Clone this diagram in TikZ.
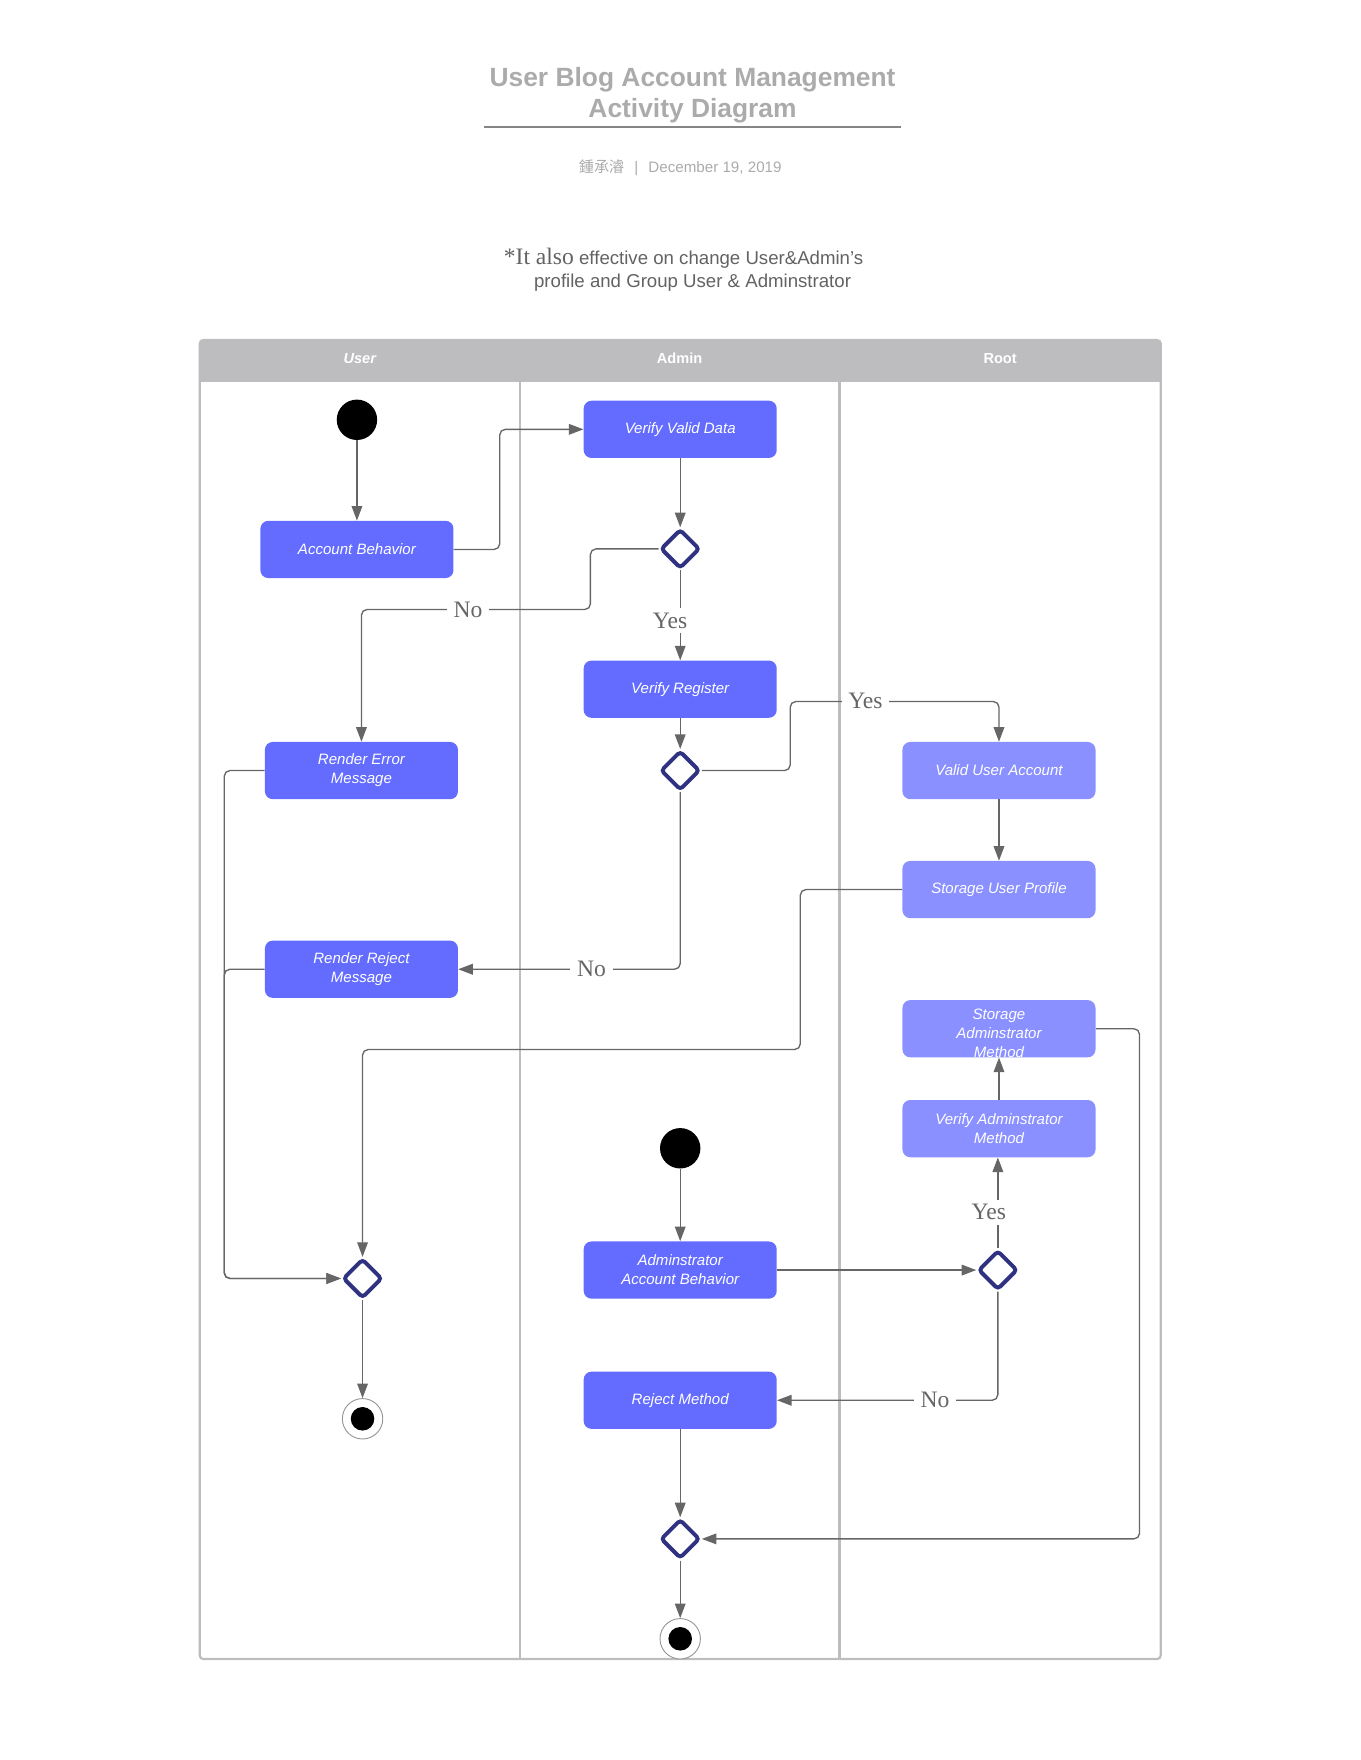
\documentclass[tikz,border=0pt]{standalone}
\usepackage{fontspec}
\setmainfont{Liberation Sans}
\newfontfamily\guardfont{Liberation Serif}
\newfontfamily\cjkfont{Noto Sans CJK TC}
\usetikzlibrary{arrows.meta}
\usetikzlibrary{shapes.geometric}
\usetikzlibrary{positioning}

\definecolor{actblue}{HTML}{636CFF}
\definecolor{rootblue}{HTML}{8A90FF}
\definecolor{decnavy}{HTML}{2E3281}
\definecolor{lanegray}{HTML}{BDBDBF}
\definecolor{flowgray}{HTML}{666666}
\definecolor{titlegray}{HTML}{ABABAB}
\definecolor{notegray}{HTML}{626262}

\tikzset{
 act/.style={rectangle, rounded corners=7pt, fill=actblue, text=white, minimum width=172pt, minimum height=51pt, align=center, inner sep=2pt, font=\fontsize{13.4}{17}\selectfont\itshape},
 rootact/.style={act, fill=rootblue},
 decision/.style={diamond, draw=decnavy, line width=3.5pt, fill=white, minimum size=35pt, inner sep=0pt, rounded corners=3pt},
 initial/.style={circle, fill=black, minimum size=36pt, inner sep=0pt},
 final/.style={circle, draw=flowgray!70, line width=0.8pt, fill=white, minimum size=36pt, inner sep=0pt, path picture={\fill[black] (path picture bounding box.center) circle (10.5pt);}},
 flow/.style={draw=flowgray, line width=1.2pt, rounded corners=5pt, -{Triangle[length=13pt,width=9.5pt]}},
 guard/.style={fill=white, text=flowgray, inner xsep=6pt, inner ysep=4pt, font=\guardfont\fontsize{21}{21}\selectfont},
 lanehead/.style={text=white, font=\fontsize{13}{15}\selectfont\bfseries},
}

\begin{document}
\begin{tikzpicture}[x=1pt, y=-1pt]
\useasboundingbox (0,0) rectangle (1212,1568);

% title block
\node[text=titlegray, align=center, font=\fontsize{23.5}{28}\selectfont\bfseries] (title) at (617,85) {User Blog Account Management\\Activity Diagram};
\draw[flowgray!80, line width=1.3pt] (431,113) -- (803,113);
\node[text=titlegray, font=\fontsize{13.5}{16}\selectfont] (byline) at (606,149) {{\cjkfont 鍾承濬}\hspace{9pt}|\hspace{9pt}December 19, 2019};
\node[text=notegray, font=\fontsize{16.6}{20}\selectfont] (note1) at (609,230) {{\guardfont\fontsize{21}{20}\selectfont *It also} effective on change User\&Admin's};
\node[text=notegray, font=\fontsize{16.6}{20}\selectfont] (note2) at (617,252) {profile and Group User \& Adminstrator};

% swimlanes
\fill[lanegray, rounded corners=3pt] (178,303) rectangle (1034,339);
\draw[lanegray, line width=2pt, rounded corners=3pt] (178,303) rectangle (1034,1478);
\draw[lanegray, line width=2pt] (178,339) -- (1034,339);
\foreach \x in {463,748}
 \draw[lanegray, line width=2pt] (\x,303) -- (\x,1478);
\node[lanehead] (hUser) at (320.5,319) {\itshape User};
\node[lanehead] (hAdmin) at (605.5,319) {Admin};
\node[lanehead] (hRoot) at (891,319) {Root};

% user lane
\node[initial] (start1) at (318,374) {};
\node[act] (accbeh) at (318,489.5) {Account Behavior};
\node[act] (renderr) at (322,686.5) {Render Error\\Message};
\node[act] (rendrej) at (322,863.5) {Render Reject\\Message};
\node[decision] (merge1) at (323,1139) {};
\node[final] (end1) at (323,1264) {};

% admin lane
\node[act] (verdata) at (606,382.5) {Verify Valid Data};
\node[decision] (dec1) at (606,489) {};
\node[act] (verreg) at (606,614) {Verify Register};
\node[decision] (dec2) at (606,686.5) {};
\node[initial] (start2) at (606,1023) {};
\node[act] (admbeh) at (606,1131.5) {Adminstrator\\Account Behavior};
\node[act] (rejmeth) at (606,1247.5) {Reject Method};
\node[decision] (merge2) at (606,1371) {};
\node[final] (end2) at (606,1460) {};

% root lane
\node[rootact] (validacc) at (890,686.5) {Valid User Account};
\node[rootact] (storprof) at (890,792.5) {Storage User Profile};
\node[rootact, label={[text=white, align=center, font=\fontsize{13.4}{17}\selectfont\itshape, yshift=-4pt]center:Storage\\Adminstrator\\Method}] (stormeth) at (890,916.5) {};
\node[rootact] (vermeth) at (890,1005.5) {Verify Adminstrator\\Method};
\node[decision] (dec3) at (889,1131.5) {};

% flows
\draw[flow] (start1) -- (accbeh);
\draw[flow] (accbeh.east) -- ++(41,0) |- (verdata.west);
\draw[flow] (verdata) -- (dec1);
\draw[flow] (dec1.west) -| (526,543) -| (renderr.north);
\draw[flow] (dec1) -- (verreg);
\draw[flow] (verreg) -- (dec2);
\draw[flow] (dec2.east) -| (704,625) -| (validacc.north);
\draw[flow] (dec2.south) |- (rendrej.east);
\draw[flow] (validacc) -- (storprof);
\draw[flow] (storprof.west) -| (713,935) -| (merge1.north);
\draw[flow] (renderr.west) -- ++(-36,0) |- (merge1.west);
\draw[flow] (rendrej.west) -- ++(-36,0) |- (merge1.west);
\draw[flow] (merge1) -- (end1);
\draw[flow] (start2) -- (admbeh);
\draw[flow] (admbeh) -- (dec3);
\draw[flow] (dec3.north) -- (dec3.north |- vermeth.south);
\draw[flow] (vermeth) -- (stormeth);
\draw[flow] (dec3.south) |- (rejmeth.east);
\draw[flow] (stormeth.east) -- ++(39,0) |- (merge2.east);
\draw[flow] (rejmeth) -- (merge2);
\draw[flow] (merge2) -- (end2);

% guards
\node[guard] (gNo1) at (417,543) {No};
\node[guard] (gYes1) at (597,553) {Yes};
\node[guard] (gYes2) at (771,624) {Yes};
\node[guard] (gNo2) at (527,863) {No};
\node[guard] (gYes3) at (881,1080) {Yes};
\node[guard] (gNo3) at (833,1247) {No};
\end{tikzpicture}
\end{document}
